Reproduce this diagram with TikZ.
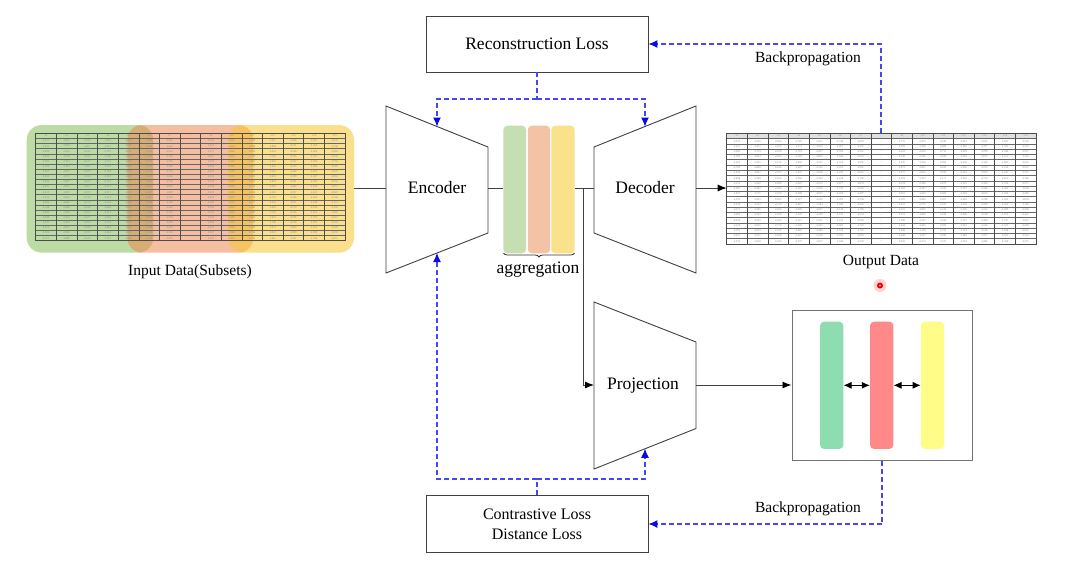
\documentclass[tikz,border=0pt]{standalone}
\usepackage{fontspec}
\setmainfont{Liberation Serif}
\usetikzlibrary{arrows.meta,calc,decorations.pathreplacing}

\definecolor{lineg}{RGB}{64,64,64}
\definecolor{bpline}{RGB}{70,70,245}
\definecolor{bptip}{RGB}{10,10,230}
\definecolor{ovG}{RGB}{136,191,91}
\definecolor{ovO}{RGB}{237,137,82}
\definecolor{ovY}{RGB}{246,200,46}
\definecolor{agG}{RGB}{197,223,178}
\definecolor{agO}{RGB}{244,195,165}
\definecolor{agY}{RGB}{250,226,140}
\definecolor{clG}{RGB}{142,221,176}
\definecolor{clR}{RGB}{255,136,136}
\definecolor{clY}{RGB}{255,252,136}

\tikzset{
  bigtxt/.style={font=\fontsize{17.5}{21}\selectfont},
  lbltxt/.style={font=\fontsize{15.5}{19}\selectfont},
  lossbox/.style={draw=lineg, line width=0.9pt, minimum width=222pt, minimum height=56pt, inner sep=0pt, bigtxt},
  trap/.style={draw=lineg, line width=0.9pt, fill=white},
  conn/.style={draw=lineg, line width=0.9pt},
  arr/.style={conn, -{Latex[length=9pt,width=7pt,color=black]}},
  dblarr/.style={draw=black, line width=0.9pt, {Latex[length=8pt,width=7pt]}-{Latex[length=8pt,width=7pt]}},
  bp/.style={draw=bpline, color=bpline, line width=1.05pt, dash pattern=on 5pt off 3pt},
  bparr/.style={bp, -{Latex[length=9pt,width=8pt,fill=bptip,color=bptip]}},
  aggbar/.style={rectangle, rounded corners=4pt, inner sep=0pt, minimum width=22.7pt, minimum height=127.6pt, draw=none},
  clbar/.style={rectangle, rounded corners=4pt, inner sep=0pt, minimum width=23.3pt, minimum height=127.3pt, draw=none},
  overlay/.style={rounded corners=15pt, fill opacity=0.55},
  celltxt/.style={font=\fontsize{2.8}{3}\selectfont, text=black!45, inner sep=0pt},
  rowline/.style={draw=black!60, line width=0.45pt},
  colline/.style={draw=black!70, line width=0.6pt},
}

\begin{document}
\begin{tikzpicture}[x=1pt,y=-1pt]
\useasboundingbox (0,0) rectangle (1070,566);
\fill[white] (0,0) rectangle (1070,566);

% ---------------- input data with subset overlays ----------------
\fill[overlay, ovG] (26.7,125) rectangle (153.3,252.7);
\fill[overlay, ovO] (127.3,125) rectangle (253.3,252.7);
\fill[overlay, ovY] (228.3,125) rectangle (354,252.7);
\pgfmathsetseed{11}
\foreach \r in {1,...,20} {
  \draw[rowline] (35.7,{133.3+\r*5.114}) -- (345,{133.3+\r*5.114});
}
\foreach \c in {0,...,15} {
  \draw[colline] ({35.7+\c*20.62},133.3) -- ({35.7+\c*20.62},240.7);
}
\draw[colline] (35.7,133.3) -- (345,133.3);
\draw[colline] (35.7,240.7) -- (345,240.7);
\foreach \c in {0,...,14} {
  \pgfmathtruncatemacro{\cc}{\c+1}
  \node[celltxt] (inh-\c) at ({35.7+(\c+0.5)*20.62},{133.3+0.5*5.114}) {\ifnum\c=7 ...\else x\cc\fi};
  \foreach \r in {1,...,20} {
    \pgfmathrandominteger{\ra}{100}{999}
    \node[celltxt] (in-\r-\c) at ({35.7+(\c+0.5)*20.62},{133.3+(\r+0.5)*5.114}) {\ifnum\c=7 \else 4.\ra\fi};
  }
}
\coordinate (in-e) at (354,188);
\node[lbltxt] (inlbl) at (190,272) {Input Data(Subsets)};

% ---------------- output data table ----------------
\fill[black!12] (726.7,133.3) rectangle (1036,138.6);
\foreach \r in {1,...,20} {
  \draw[rowline] (726.7,{133.3+\r*5.27}) -- (1036,{133.3+\r*5.27});
}
\foreach \c in {0,...,15} {
  \draw[colline] ({726.7+\c*20.62},133.3) -- ({726.7+\c*20.62},244.7);
}
\draw[colline] (726.7,133.3) -- (1036,133.3);
\draw[colline] (726.7,244.7) -- (1036,244.7);
\foreach \c in {0,...,14} {
  \pgfmathtruncatemacro{\cc}{\c+1}
  \node[celltxt] (outh-\c) at ({726.7+(\c+0.5)*20.62},{133.3+0.5*5.27}) {\ifnum\c=7 ...\else x\cc\fi};
  \foreach \r in {1,...,20} {
    \pgfmathrandominteger{\ra}{100}{999}
    \node[celltxt] (out-\r-\c) at ({726.7+(\c+0.5)*20.62},{133.3+(\r+0.5)*5.27}) {\ifnum\c=7 ...\else 4.\ra\fi};
  }
}
\coordinate (out-w) at (726.7,188);
\coordinate (out-n) at (881,133.3);
\node[lbltxt] (outlbl) at (881,262) {Output Data};
\fill[red!40, opacity=0.45] (880,285.5) circle (6.5pt);
\fill[red!90!black] (880,285.5) circle (3pt);
\fill[red!40] (880,285.5) circle (1.2pt);

% ---------------- loss boxes ----------------
\node[lossbox] (rec) at (537,44) {Reconstruction Loss};
\node[lossbox, align=center, font=\fontsize{16}{20}\selectfont, minimum height=57pt] (con) at (537,524) {Contrastive Loss\\Distance Loss};

% ---------------- encoder ----------------
\coordinate (enc-tl) at (386,106);
\coordinate (enc-tr) at (488,147);
\coordinate (enc-br) at (488,233);
\coordinate (enc-bl) at (386,273);
\draw[trap] (enc-tl) -- (enc-tr) -- (enc-br) -- (enc-bl) -- cycle;
\node[bigtxt] (enc) at (437,188) {Encoder};
\coordinate (enc-w) at (386,188);
\coordinate (enc-e) at (488,188);
\coordinate (enc-t) at ($(enc-tl)!0.5!(enc-tr)$);
\coordinate (enc-b) at ($(enc-bl)!0.5!(enc-br)$);

% ---------------- decoder ----------------
\coordinate (dec-tl) at (594,147);
\coordinate (dec-tr) at (696,106);
\coordinate (dec-br) at (696,273);
\coordinate (dec-bl) at (594,233);
\draw[trap] (dec-tl) -- (dec-tr) -- (dec-br) -- (dec-bl) -- cycle;
\node[bigtxt] (dec) at (645,188) {Decoder};
\coordinate (dec-w) at (594,188);
\coordinate (dec-e) at (696,188);
\coordinate (dec-t) at ($(dec-tl)!0.5!(dec-tr)$);

% ---------------- projection ----------------
\coordinate (proj-tl) at (594,302);
\coordinate (proj-tr) at (696,342);
\coordinate (proj-br) at (696,428.5);
\coordinate (proj-bl) at (594,469);
\draw[trap] (proj-tl) -- (proj-tr) -- (proj-br) -- (proj-bl) -- cycle;
\node[bigtxt] (proj) at (643,386) {Projection};
\coordinate (proj-w) at (594,385);
\coordinate (proj-e) at (696,385);
\coordinate (proj-b) at ($(proj-bl)!0.5!(proj-br)$);

% ---------------- aggregation ----------------
\node[aggbar, fill=agG, minimum width=22.7pt] (agg1) at (514.7,189.5) {};
\node[aggbar, fill=agO, minimum width=22.3pt] (agg2) at (538.9,189.5) {};
\node[aggbar, fill=agY, minimum width=23.4pt] (agg3) at (563,189.5) {};
\coordinate (agg-w) at (503.3,188);
\coordinate (agg-e) at (574.7,188);
\draw[draw=black!80, line width=0.8pt, decorate, decoration={brace, mirror, amplitude=4pt}] (503.5,253) -- (574.5,253);
\node[bigtxt] (agglbl) at (538,270) {aggregation};

% ---------------- cluster box ----------------
\node[draw=black!55, line width=1pt, minimum width=180pt, minimum height=150pt, inner sep=0pt] (clus) at (882,385) {};
\node[clbar, fill=clG] (cg) at (831.7,385.3) {};
\node[clbar, fill=clR] (cr) at (881.7,385.3) {};
\node[clbar, fill=clY] (cy) at (932.5,385.3) {};
\draw[dblarr] (cg.east) -- (cr.west);
\draw[dblarr] (cr.east) -- (cy.west);

% ---------------- solid connectors ----------------
\draw[conn] (in-e) -- (enc-w);
\draw[conn] (enc-e) -- (agg-w);
\draw[conn] (agg-e) -- (dec-w);
\coordinate (split) at (583,188);
\draw[arr] (split) |- (proj-w);
\draw[arr] (dec-e) -- (out-w);
\draw[arr] (proj-e) -- (clus.west);

% ---------------- backpropagation (dashed) ----------------
\coordinate (rec-j) at (537,99);
\draw[bp] (rec.south) -- (rec-j);
\draw[bparr] (rec-j) -| (enc-t);
\draw[bparr] (rec-j) -| (dec-t);
\coordinate (con-j) at (537,479);
\draw[bp] (con.north) -- (con-j);
\draw[bparr] (con-j) -| (enc-b);
\draw[bparr] (con-j) -| (proj-b);
\draw[bparr] (out-n) |- (rec.east);
\draw[bparr] (clus.south) |- (con.east);
\node[lbltxt] (bp1) at (808,59) {Backpropagation};
\node[lbltxt] (bp2) at (808,509) {Backpropagation};
\end{tikzpicture}
\end{document}
